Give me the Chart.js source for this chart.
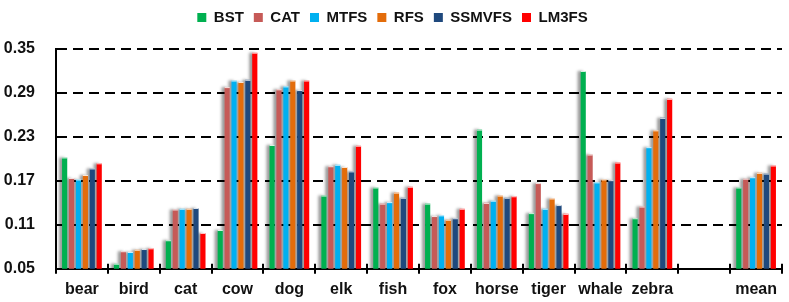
<!DOCTYPE html>
<html>
<head>
<meta charset="utf-8">
<script src="https://cdn.jsdelivr.net/npm/chart.js@4.4.0/dist/chart.umd.min.js"></script>
<style>
    html, body { margin: 0; padding: 0; background: #fff; }
    #wrap { width: 789px; height: 302px; }
</style>
</head>
<body>
<div id="wrap"><canvas id="chart"></canvas></div>
<script>
// categories (the blank one is the gap before "mean")
const categories = ['bear', 'bird', 'cat', 'cow', 'dog', 'elk', 'fish', 'fox', 'horse', 'tiger', 'whale', 'zebra', '', 'mean'];

const bst    = [0.202, 0.057, 0.089, 0.103, 0.219, 0.150, 0.161, 0.139, 0.240, 0.126, 0.320, 0.119, null, 0.161];
const cat    = [0.174, 0.074, 0.131, 0.298, 0.295, 0.190, 0.139, 0.122, 0.140, 0.167, 0.206, 0.135, null, 0.173];
const mtfs   = [0.172, 0.073, 0.132, 0.307, 0.299, 0.192, 0.141, 0.123, 0.143, 0.132, 0.168, 0.216, null, 0.175];
const rfs    = [0.178, 0.076, 0.132, 0.305, 0.307, 0.189, 0.154, 0.117, 0.150, 0.146, 0.172, 0.239, null, 0.181];
const ssmvfs = [0.187, 0.077, 0.133, 0.308, 0.294, 0.183, 0.147, 0.119, 0.147, 0.137, 0.171, 0.256, null, 0.180];
const lm3fs  = [0.194, 0.078, 0.099, 0.345, 0.307, 0.218, 0.162, 0.132, 0.149, 0.125, 0.195, 0.282, null, 0.191];

const seriesNames = ['BST', 'CAT', 'MTFS', 'RFS', 'SSMVFS', 'LM3FS'];
const seriesColors = ['#00B050', '#C65A57', '#00B0F0', '#E36C0A', '#1F497D', '#FF0000'];
const seriesData = [bst, cat, mtfs, rfs, ssmvfs, lm3fs];

const yTicks = [0.05, 0.11, 0.17, 0.23, 0.29, 0.35];

const FONT = "'Liberation Sans', Arial, sans-serif";

// soft grey shadow on the left of each bar
const barShadow = {
    id: 'barShadow',
    beforeDatasetDraw(chart) {
        const ctx = chart.ctx;
        ctx.save();
        ctx.shadowColor = 'rgba(0,0,0,0.4)';
        ctx.shadowOffsetX = -3;
        ctx.shadowOffsetY = 0;
        ctx.shadowBlur = 3;
    },
    afterDatasetDraw(chart, args) {
        const ctx = chart.ctx;
        ctx.restore();
        // thin white cap on top of each bar
        const values = chart.data.datasets[args.index].data;
        ctx.save();
        ctx.fillStyle = 'rgba(255,255,255,0.85)';
        args.meta.data.forEach((bar, i) => {
            if (values[i] == null) return;
            ctx.fillRect(bar.x - bar.width / 2, bar.y, bar.width, 1);
        });
        ctx.restore();
    }
};

// x tick marks that also poke above the axis line
const axisTicks = {
    id: 'axisTicks',
    afterDraw(chart) {
        const x = chart.scales.x;
        const ctx = chart.ctx;
        const bottom = chart.chartArea.bottom;
        const half = (x.getPixelForTick(1) - x.getPixelForTick(0)) / 2;
        ctx.save();
        ctx.strokeStyle = '#000';
        ctx.lineWidth = 2;
        for (let i = 0; i <= categories.length; i++) {
            const px = Math.round(x.getPixelForTick(0) - half + i * half * 2);
            ctx.beginPath();
            ctx.moveTo(px, bottom - 5);
            ctx.lineTo(px, bottom);
            ctx.stroke();
        }
        ctx.restore();
    }
};

// extra room under the legend
const legendGap = {
    id: 'legendGap',
    beforeInit(chart) {
        const fit = chart.legend.fit;
        chart.legend.fit = function () {
            fit.bind(chart.legend)();
            this.height += 14;
        };
    }
};

new Chart(document.getElementById('chart'), {
    type: 'bar',
    data: {
        labels: categories,
        datasets: seriesNames.map((name, i) => ({
            label: name,
            data: seriesData[i],
            backgroundColor: seriesColors[i],
            borderWidth: 0,
            categoryPercentage: 0.8,
            barPercentage: 0.75
        }))
    },
    options: {
        responsive: true,
        maintainAspectRatio: false,
        animation: false,
        layout: { padding: { left: 3, right: 7, top: 0, bottom: -3 } },
        plugins: {
            legend: {
                position: 'top',
                labels: {
                    boxWidth: 9,
                    boxHeight: 9,
                    padding: 10,
                    color: '#111',
                    font: { family: FONT, size: 15, weight: 'bold' }
                }
            },
            tooltip: { enabled: false }
        },
        scales: {
            x: {
                offset: true,
                grid: {
                    offset: true,
                    drawOnChartArea: false,
                    drawTicks: true,
                    tickLength: 5,
                    color: '#000',
                    lineWidth: 2
                },
                border: { display: true, color: '#000', width: 2 },
                ticks: {
                    color: '#111',
                    padding: 6,
                    autoSkip: false,
                    maxRotation: 0,
                    minRotation: 0,
                    font: { family: FONT, size: 16, weight: 'bold' }
                }
            },
            y: {
                min: 0.05,
                max: 0.35,
                afterBuildTicks: (axis) => { axis.ticks = yTicks.map(v => ({ value: v })); },
                afterFit: (axis) => { axis.width = 53; },
                grid: {
                    color: '#000',
                    lineWidth: 2,
                    drawTicks: false
                },
                border: { display: true, color: '#000', width: 2, dash: [10, 6] },
                ticks: {
                    color: '#111',
                    padding: 21,
                    font: { family: FONT, size: 16, weight: 'bold' },
                    callback: (v) => Number(v).toFixed(2)
                }
            }
        }
    },
    plugins: [barShadow, axisTicks, legendGap]
});
</script>
</body>
</html>
